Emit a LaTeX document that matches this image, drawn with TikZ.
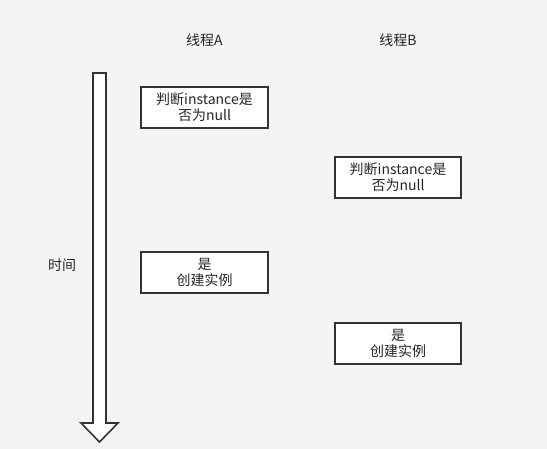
\documentclass[tikz,border=0pt]{standalone}
\usepackage{fontspec}
\setmainfont{Noto Sans CJK SC}
\tikzset{
	stepbox/.style = {draw=black!80, fill=white, line width=1.4pt,
		minimum width=95pt, minimum height=30.5pt, inner sep=0pt,
		align=center, text=black!85, font=\fontsize{10.5}{12}\selectfont},
	title/.style = {text=black!85, font=\fontsize{10.5}{12}\selectfont},
	timearrow/.style = {draw=black!80, fill=white, line width=1.2pt, line join=miter}
}

\begin{document}
\begin{tikzpicture}[x=0.75pt, y=-0.75pt]
	% ====== Background ========
	\fill[black!4.5] (0,0) rectangle (547,449);
	\useasboundingbox (0,0) rectangle (547,449);
	% ====== Time axis ========
	\draw[timearrow] (93,73) -- (106,73) -- (106,423) -- (118,423) -- (99.5,442)
		-- (81,423) -- (93,423) -- cycle;
	\node[title] (time) at (62,265) {时间};
	% ====== Threads ========
	\node[title] (thA) at (204.5,40) {线程A};
	\node[title] (thB) at (398,40) {线程B};
	\foreach \t/\x/\ya/\yb in {A/204.5/107.5/272.5, B/398/177.5/343.5} {
		\node[stepbox] (check\t) at (\x,\ya) {判断instance是\\否为null};
		\node[stepbox] (create\t) at (\x,\yb) {是\\创建实例};
	}
\end{tikzpicture}
\end{document}
